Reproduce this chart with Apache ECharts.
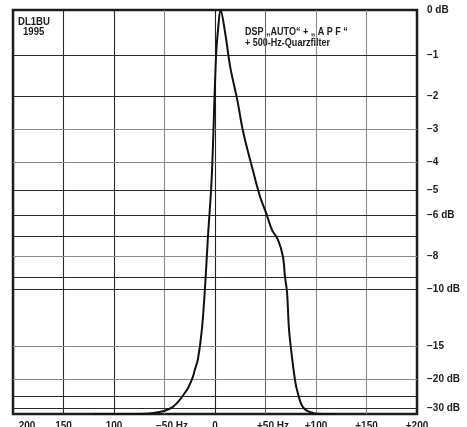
<!DOCTYPE html>
<html>
<head>
<meta charset="utf-8">
<script src="https://cdn.jsdelivr.net/npm/echarts@6/dist/echarts.min.js"></script>
<style>
  html, body { margin: 0; padding: 0; background: #fff; overflow: hidden; }
  #chart { width: 467px; height: 427px; }
</style>
</head>
<body>
<div id="chart"></div>
<script>
// Filter passband: frequency offset (Hz) and measured level (dB)
const freqHz = [-120, -94, -81, -61, -42, -28, -22, -20, -17, -13, -10, -7, -3.3, 1, 3, 5.5, 10, 15, 22, 28, 36.6, 44.6, 50.5, 56.4, 62.4, 67.3, 69.3, 71.3, 73.3, 76.2, 79.2, 81.2, 87.1, 97, 107, 120];
const levelDb = [-36, -36, -36, -34.8, -29.7, -22.6, -19.5, -18.2, -16.6, -13.1, -9.9, -7.0, -4.6, -1.05, -0.43, 0, -0.49, -1.29, -2.14, -3.08, -4.18, -5.27, -5.91, -6.66, -7.13, -7.98, -9.12, -10.1, -13.1, -16.2, -20.1, -22.6, -29.7, -34.8, -36, -36];

// Frequency axis ticks
const xTickValues = [-200, -150, -100, -50, 0, 50, 100, 150, 200];
const xTickLabels = ['200', '150', '100', '\u221250 Hz', '0', '+50 Hz', '+100', '+150', '+200'];

// Level grid (dB) with labels on the right; empty label = line only
const gridDb = [-1, -2, -3, -4, -5, -6, -7, -8, -9, -10, -15, -20, -25, -30];
const gridLabels = ['\u22121', '\u22122', '\u22123', '\u22124', '\u22125', '\u22126 dB', '', '\u22128', '', '\u221210 dB', '\u221215', '\u221220 dB', '', '\u221230 dB'];
const gridDark = [true, true, false, false, true, true, true, false, true, true, false, false, true, true];
const topLabel = '0 dB';

// Lowest level shown (baseline of the plot)
const FLOOR_DB = -36;
const toAmp = db => Math.pow(10, db / 20);

const FONT = '"Liberation Sans", Arial, sans-serif';
const INK = '#1c1c1c';

const curve = freqHz.map((f, i) => [f, toAmp(levelDb[i])]);

const gridLines = gridDb.map((db, i) => ({
  yAxis: toAmp(db),
  lineStyle: { color: gridDark[i] ? '#2a2a2a' : '#8a8a8a', width: gridDark[i] ? 1.2 : 1.1, type: 'solid' },
  label: { show: gridLabels[i] !== '', formatter: gridLabels[i] }
}));
gridLines.push({
  yAxis: 1,
  lineStyle: { color: INK, width: 0.01 },
  label: { show: true, formatter: topLabel }
});

const chart = echarts.init(document.getElementById('chart'), null, { renderer: 'canvas' });

chart.setOption({
  animation: false,
  backgroundColor: '#fff',
  grid: {
    left: 13, right: 50, top: 10, bottom: 13,
    containLabel: false,
    outerBoundsMode: 'none',
    show: true, borderColor: INK, borderWidth: 2.5, backgroundColor: 'transparent'
  },
  xAxis: {
    type: 'value',
    min: -200, max: 200, interval: 50,
    axisLine: { show: false },
    axisTick: { show: false },
    splitLine: {
      show: true,
      lineStyle: { color: ['#222', '#2a2a2a', '#2a2a2a', '#8a8a8a', '#222', '#6a6a6a', '#8a8a8a', '#8a8a8a', '#222'], width: 1.1 }
    },
    axisLabel: {
      margin: 7,
      color: INK,
      fontFamily: FONT,
      fontWeight: 'bold',
      fontSize: 10,
      hideOverlap: false,
      formatter: v => {
        const i = xTickValues.indexOf(v);
        if (i < 0) return '';
        const t = xTickLabels[i];
        if (i === 0) return '{wide|}' + t;
        if (t.indexOf('Hz') >= 0) return '{pad|}' + t;
        return t;
      },
      rich: {
        pad: { width: 15 },
        wide: { width: 28 }
      }
    }
  },
  yAxis: {
    type: 'value',
    min: toAmp(FLOOR_DB), max: 1,
    axisLine: { show: false },
    axisTick: { show: false },
    axisLabel: { show: false },
    splitLine: { show: false }
  },
  series: [{
    type: 'line',
    data: curve,
    smooth: 0.35,
    symbol: 'none',
    lineStyle: { color: '#111', width: 2 },
    z: 5,
    markLine: {
      silent: true,
      symbol: 'none',
      animation: false,
      label: {
        position: 'end',
        distance: 10,
        color: INK,
        fontFamily: FONT,
        fontWeight: 'bold',
        fontSize: 10
      },
      data: gridLines
    }
  }],
  graphic: [
    { type: 'text', x: 18, y: 22, scaleX: 0.87, style: { text: 'DL1BU', font: 'bold 11px ' + FONT, fill: INK, verticalAlign: 'middle' } },
    { type: 'text', x: 23, y: 32, scaleX: 0.87, style: { text: '1995', font: 'bold 11px ' + FONT, fill: INK, verticalAlign: 'middle' } },
    { type: 'text', x: 245, y: 32, scaleX: 0.82, style: { text: 'DSP \u201EAUTO\u201C + \u201E A P F \u201C', font: 'bold 11px ' + FONT, fill: INK, verticalAlign: 'middle' } },
    { type: 'text', x: 245, y: 42.5, scaleX: 0.82, style: { text: '+ 500-Hz-Quarzfilter', font: 'bold 11px ' + FONT, fill: INK, verticalAlign: 'middle' } }
  ]
});
</script>
</body>
</html>
